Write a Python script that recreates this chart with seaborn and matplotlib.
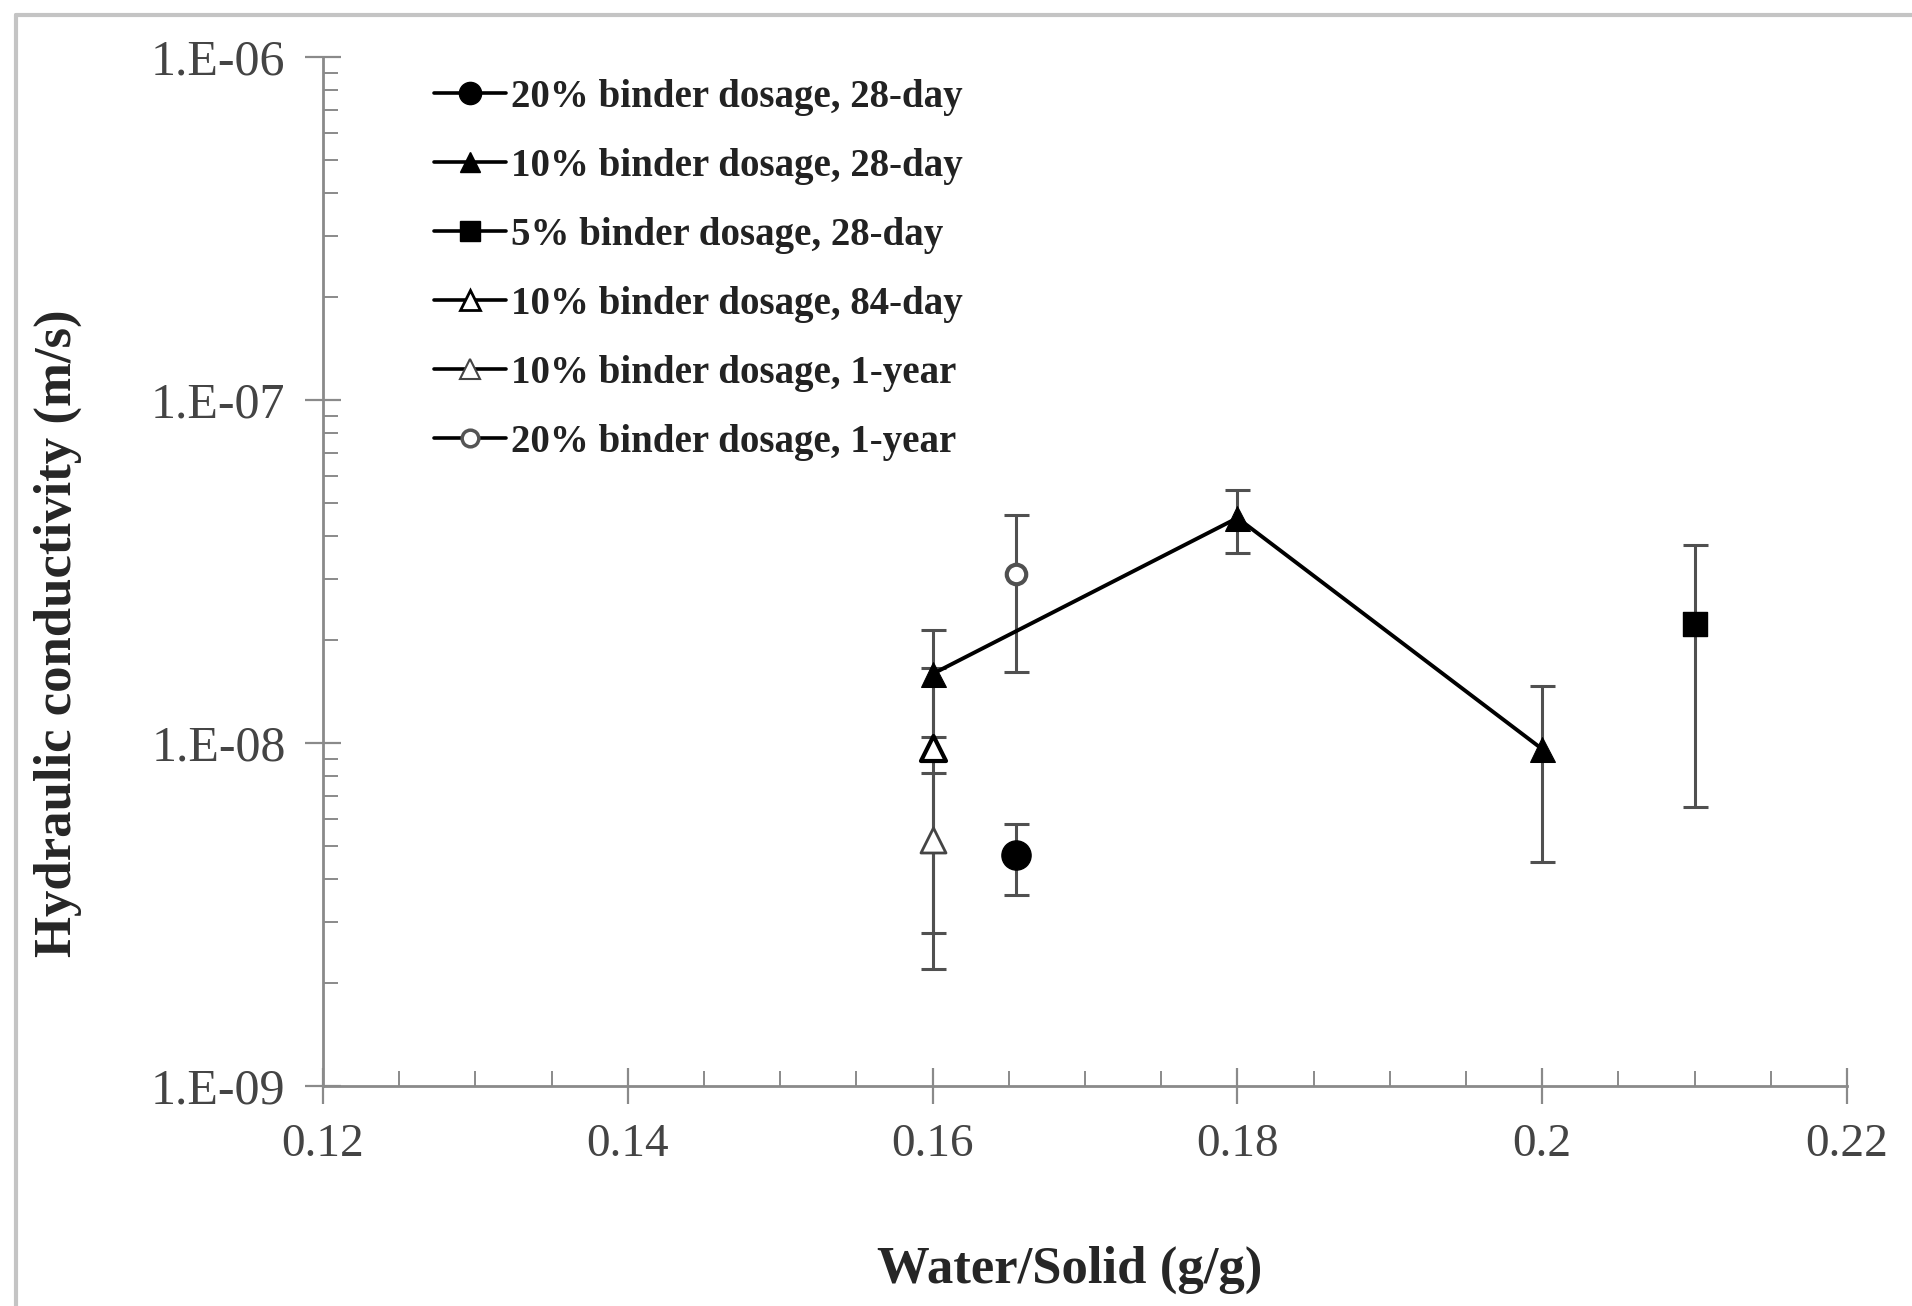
import numpy as np
import pandas as pd
import matplotlib
matplotlib.use("Agg")
import matplotlib.pyplot as plt
import seaborn as sns
from matplotlib.lines import Line2D
from matplotlib.ticker import MultipleLocator, LogLocator, NullFormatter

# ---------------- data ----------------
labels = ["20% binder dosage, 28-day", "10% binder dosage, 28-day", "5% binder dosage, 28-day",
          "10% binder dosage, 84-day", "10% binder dosage, 1-year", "20% binder dosage, 1-year"]

b20_28_x = [0.1655]
b20_28_y = [4.7e-9]
b20_28_err = [1.1e-9]

b10_28_x = [0.16, 0.18, 0.20]
b10_28_y = [1.59e-8, 4.53e-8, 9.6e-9]
b10_28_err = [0.55e-8, 0.95e-8, 5.1e-9]

b5_28_x = [0.21]
b5_28_y = [2.22e-8]
b5_28_err = [1.57e-8]

b10_84_x = [0.16]
b10_84_y = [9.7e-9]
b10_84_err = [6.9e-9]

b10_1y_x = [0.16]
b10_1y_y = [5.2e-9]
b10_1y_err = [3.0e-9]

b20_1y_x = [0.1655]
b20_1y_y = [3.11e-8]
b20_1y_err = [1.5e-8]

xticks = [0.12, 0.14, 0.16, 0.18, 0.20, 0.22]
xtick_labels = ["0.12", "0.14", "0.16", "0.18", "0.2", "0.22"]
yticks = [1e-9, 1e-8, 1e-7, 1e-6]
ytick_labels = ["1.E-09", "1.E-08", "1.E-07", "1.E-06"]

# ---------------- style ----------------
sns.set_style("white")
plt.rcParams["font.family"] = ["Liberation Serif", "DejaVu Serif"]

fig = plt.figure(figsize=(19.12, 13.06), dpi=100)
ax = fig.add_axes([323/1912, 1 - 1086/1306, (1847-323)/1912, (1086-57)/1306])

# gray frame (top & left)
fig.add_artist(Line2D([16/1912, 16/1912], [0, 1 - 15/1306], transform=fig.transFigure,
                      color="#c4c4c4", lw=3))
fig.add_artist(Line2D([16/1912, 1], [1 - 15/1306, 1 - 15/1306], transform=fig.transFigure,
                      color="#c4c4c4", lw=3))

errc = "#505050"
series = [
    (b10_84_x, b10_84_y, b10_84_err),
    (b10_1y_x, b10_1y_y, b10_1y_err),
    (b10_28_x, b10_28_y, b10_28_err),
    (b20_28_x, b20_28_y, b20_28_err),
    (b5_28_x, b5_28_y, b5_28_err),
    (b20_1y_x, b20_1y_y, b20_1y_err),
]
for xs, ys, es in series:
    ax.errorbar(xs, ys, yerr=es, fmt="none", ecolor=errc, elinewidth=2.2,
                capsize=9, capthick=2.2, zorder=2)

df10 = pd.DataFrame({"x": b10_28_x, "y": b10_28_y})
sns.lineplot(data=df10, x="x", y="y", ax=ax, color="black", lw=2.8, zorder=3,
             marker="^", markersize=18, markerfacecolor="black", markeredgecolor="black")

def pts(xs, ys, marker, size, fc, ec, lw):
    d = pd.DataFrame({"x": xs, "y": ys})
    sns.scatterplot(data=d, x="x", y="y", ax=ax, marker=marker, s=size**2,
                    facecolor=fc, edgecolor=ec, linewidth=lw, zorder=4)

pts(b10_84_x, b10_84_y, "^", 18, "white", "black", 3)
pts(b10_1y_x, b10_1y_y, "^", 18, "white", "#444444", 2)
pts(b20_28_x, b20_28_y, "o", 21, "black", "black", 1)
pts(b5_28_x, b5_28_y, "s", 17, "black", "black", 1)
pts(b20_1y_x, b20_1y_y, "o", 14, "white", "#505050", 3)

# ---------------- axes ----------------
ax.set_yscale("log")
ax.set_xlim(0.12, 0.22)
ax.set_ylim(1e-9, 1e-6)
ax.set_xticks(xticks)
ax.set_xticklabels(xtick_labels)
ax.set_yticks(yticks)
ax.set_yticklabels(ytick_labels)
ax.xaxis.set_minor_locator(MultipleLocator(0.005))
ax.yaxis.set_minor_locator(LogLocator(base=10, subs=np.arange(2, 10)))
ax.yaxis.set_minor_formatter(NullFormatter())

for s in ["top", "right"]:
    ax.spines[s].set_visible(False)
for s in ["left", "bottom"]:
    ax.spines[s].set_color("#8a8a8a")
    ax.spines[s].set_linewidth(2)

ax.tick_params(axis="both", which="both", bottom=True, left=True, top=False, right=False)
ax.tick_params(axis="both", which="major", direction="inout", length=26, width=1.6,
               color="#8a8a8a", labelcolor="#444444", pad=10)
ax.tick_params(axis="both", which="minor", direction="in", length=11, width=1.4,
               color="#8a8a8a")
ax.tick_params(axis="x", which="major", labelsize=34, pad=14)
ax.tick_params(axis="y", which="major", labelsize=36, pad=14)

ax.set_xlabel("Water/Solid (g/g)", fontsize=38, fontweight="bold")
ax.set_ylabel("Hydraulic conductivity (m/s)", fontsize=38, fontweight="bold")
ax.yaxis.set_label_coords(-0.158, 0.44)
ax.xaxis.set_label_coords(0.49, -0.155)

# ---------------- legend ----------------
handles = [
    Line2D([], [], color="black", lw=2.6, marker="o", markersize=16, mfc="black", mec="black"),
    Line2D([], [], color="black", lw=2.6, marker="^", markersize=15, mfc="black", mec="black"),
    Line2D([], [], color="black", lw=2.6, marker="s", markersize=14, mfc="black", mec="black"),
    Line2D([], [], color="black", lw=2.6, marker="^", markersize=15, mfc="white", mec="black", mew=2),
    Line2D([], [], color="black", lw=2.6, marker="^", markersize=15, mfc="white", mec="#444444", mew=1.5),
    Line2D([], [], color="black", lw=2.6, marker="o", markersize=12, mfc="white", mec="#555555", mew=2.5),
]
leg = ax.legend(handles, labels, loc="upper left", bbox_to_anchor=(0.055, 1.005),
                frameon=False, prop={"family": "Liberation Serif", "weight": "bold", "size": 28},
                handlelength=1.85, handletextpad=0.12, labelspacing=0.82, borderaxespad=0.3)
for t in leg.get_texts():
    t.set_color("#222222")

fig.savefig("out.png", dpi=100, facecolor="white")
